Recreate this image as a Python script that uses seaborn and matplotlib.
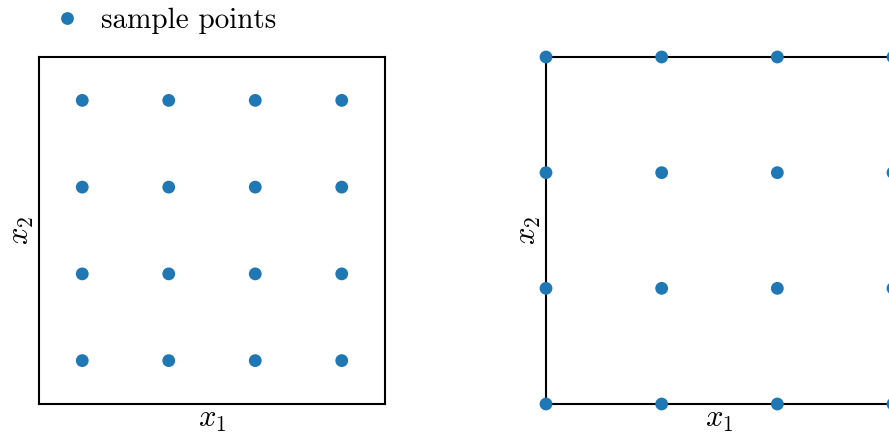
import numpy as np
import pandas as pd
import matplotlib
matplotlib.use("Agg")
import matplotlib.pyplot as plt
import seaborn as sns

sns.set_theme(style="white")
plt.rcParams["font.family"] = ["cmr10", "DejaVu Serif"]
plt.rcParams["mathtext.fontset"] = "cm"
plt.rcParams["axes.formatter.use_mathtext"] = True
plt.rcParams["text.color"] = "black"
plt.rcParams["axes.labelcolor"] = "black"

# Grid coordinates for the two sampling schemes on the unit square
cell_centers = [0.125, 0.375, 0.625, 0.875]
grid_nodes = [0.0, 1 / 3, 2 / 3, 1.0]
legend_label = "sample points"
xlabel = r"$x_1$"
ylabel = r"$x_2$"

def grid_frame(coords):
    xx, yy = np.meshgrid(coords, coords)
    return pd.DataFrame({"x1": xx.ravel(), "x2": yy.ravel()})

left_df = grid_frame(cell_centers)
right_df = grid_frame(grid_nodes)

fig = plt.figure(figsize=(8.89, 4.34), dpi=100)
W, H = 889, 434
ax1 = fig.add_axes([39 / W, 1 - 404 / H, 346 / W, 347 / H])
ax2 = fig.add_axes([546 / W, 1 - 404 / H, 347 / W, 347 / H])

color = "#1f77b4"
for ax, df, lab in [(ax1, left_df, legend_label), (ax2, right_df, None)]:
    sns.scatterplot(data=df, x="x1", y="x2", ax=ax, color=color, s=85,
                    edgecolor="none", label=lab, clip_on=False, zorder=5,
                    legend=False)
    ax.set_xlim(0, 1)
    ax.set_ylim(0, 1)
    ax.set_xticks([])
    ax.set_yticks([])
    ax.set_xlabel(xlabel, fontsize=22, labelpad=2)
    ax.set_ylabel(ylabel, fontsize=22, labelpad=2)
    for sp in ax.spines.values():
        sp.set_color("black")
        sp.set_linewidth(1.5)
        sp.set_zorder(3)

handles = [plt.Line2D([], [], marker="o", linestyle="none", color=color,
                      markersize=9.2, markeredgewidth=0)]
fig.legend(handles, [legend_label], loc="upper left",
           bbox_to_anchor=(32 / W, 1 + 13 / H), frameon=False, fontsize=21,
           handlelength=1.0, handletextpad=0.65, borderpad=0.2)

fig.savefig("out.png", dpi=100)
